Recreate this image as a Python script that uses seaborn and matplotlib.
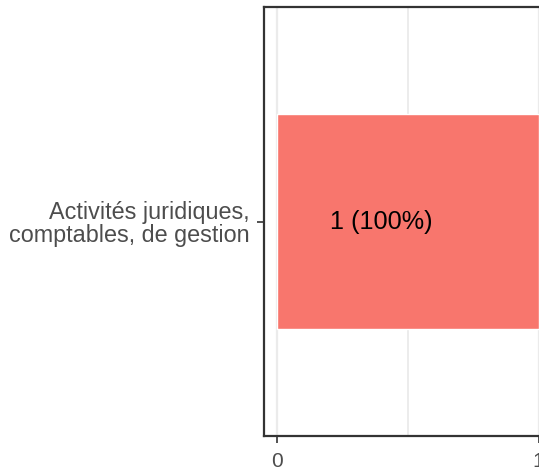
import matplotlib
matplotlib.use("Agg")
import matplotlib.pyplot as plt
import seaborn as sns
import pandas as pd

categories = ["Activités juridiques,\ncomptables, de gestion"]
counts = [1]
labels = ["1 (100%)"]
x_ticks = [0, 1]

df = pd.DataFrame({"cat": categories, "n": counts})

sns.set_theme(style="white")
plt.rcParams["font.family"] = ["Liberation Sans", "DejaVu Sans"]

fig = plt.figure(figsize=(5.39, 4.70), dpi=100)
W, H = 539, 470
left, right = 264, 551.6
top, bottom = 7, 436
ax = fig.add_axes([left / W, 1 - bottom / H, (right - left) / W, (bottom - top) / H])

sns.barplot(data=df, x="n", y="cat", orient="h", color="#F8766D", width=0.6,
            saturation=1, ax=ax, zorder=2)

for i, (v, lab) in enumerate(zip(counts, labels)):
    ax.text(v * 0.4, i, lab, ha="center", va="center", fontsize=18.2, color="black", zorder=3)

ax.set_xlim(-0.05, 1.05)
ax.set_ylim(0.6, -0.6)
ax.set_xticks(x_ticks)
ax.set_xticklabels([str(t) for t in x_ticks])
ax.set_xticks([0.5], minor=True)
ax.grid(True, axis="x", which="major", color="#EBEBEB", linewidth=1.6, zorder=0)
ax.grid(True, axis="x", which="minor", color="#EBEBEB", linewidth=1.3, zorder=0)
ax.grid(False, axis="y")
ax.set_axisbelow(True)
ax.set_xlabel("")
ax.set_ylabel("")

for s in ["left", "bottom", "top"]:
    ax.spines[s].set_visible(True)
    ax.spines[s].set_color("#333333")
    ax.spines[s].set_linewidth(1.6)
ax.spines["right"].set_visible(False)

ax.tick_params(axis="both", which="major", length=4.7, width=1.2, color="#333333",
               labelcolor="#4D4D4D", labelsize=15, pad=4)
ax.tick_params(axis="x", which="minor", length=0)
ax.tick_params(axis="y", labelsize=16.8, pad=5.5, left=True)
ax.tick_params(axis="x", bottom=True, pad=6.5)
for t in ax.get_yticklabels():
    t.set_linespacing(1.0)

fig.savefig("out.png", dpi=100, facecolor="white")
